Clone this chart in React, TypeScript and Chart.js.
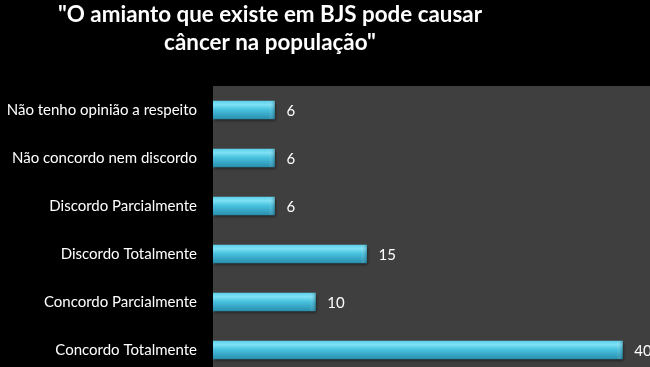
import React, { useEffect, useRef } from "react";
import { Chart, registerables } from "chart.js";

Chart.register(...registerables);

const titleLines = ['"O amianto que existe em BJS pode causar', 'câncer na população"'];
const categories = [
  "Não tenho opinião a respeito",
  "Não concordo nem discordo",
  "Discordo Parcialmente",
  "Discordo Totalmente",
  "Concordo Parcialmente",
  "Concordo Totalmente",
];
const values = [6, 6, 6, 15, 10, 40];

const FONT = "Lato, 'Open Sans', sans-serif";

export default function App() {
  const ref = useRef<HTMLCanvasElement | null>(null);
  useEffect(() => {
    const canvas = ref.current!;
    const bgPlugin = {
      id: "bg",
      beforeDraw(chart: any) {
        const { ctx, chartArea, width, height } = chart;
        ctx.save();
        ctx.fillStyle = "#000000";
        ctx.fillRect(0, 0, width, height);
        ctx.fillStyle = "#3f3f3f";
        ctx.fillRect(chartArea.left, chartArea.top, chartArea.right - chartArea.left, chartArea.bottom - chartArea.top);
        ctx.fillStyle = "#ffffff";
        ctx.font = `bold 22.4px ${FONT}`;
        ctx.textAlign = "center";
        ctx.textBaseline = "alphabetic";
        ctx.fillText(titleLines[0], 270, 22);
        ctx.fillText(titleLines[1], 270, 50);
        ctx.restore();
      },
      beforeDatasetsDraw(chart: any) {
        const ctx = chart.ctx;
        ctx.save();
        ctx.shadowColor = "rgba(0,0,0,0.55)";
        ctx.shadowOffsetX = 1;
        ctx.shadowOffsetY = 2;
        ctx.shadowBlur = 3;
      },
      afterDatasetsDraw(chart: any) {
        const ctx = chart.ctx;
        ctx.restore();
        const meta = chart.getDatasetMeta(0);
        ctx.save();
        ctx.font = `15px ${FONT}`;
        ctx.textAlign = "left";
        ctx.textBaseline = "middle";
        meta.data.forEach((bar: any, i: number) => {
          const h = bar.height;
          if (isFinite(bar.x) && isFinite(bar.y) && isFinite(h)) {
            const g = ctx.createLinearGradient(bar.x - 6, 0, bar.x, 0);
            g.addColorStop(0, "rgba(255,255,255,0)");
            g.addColorStop(1, "rgba(20,90,115,0.35)");
            ctx.fillStyle = g;
            ctx.fillRect(bar.x - 6, bar.y - h / 2, 6, h);
          }
          ctx.fillStyle = "#ffffff";
          ctx.fillText(String(values[i]), bar.x + 12, bar.y + 1);
        });
        ctx.restore();
      },
    };
    const chart = new Chart(canvas, {
      type: "bar",
      data: {
        labels: categories,
        datasets: [
          {
            data: values,
            barThickness: 18,
            backgroundColor: (c: any) => {
              const chartRef = c.chart;
              const ys = chartRef.scales && chartRef.scales.y;
              if (!ys || c.dataIndex === undefined) return "#45bfdc";
              const y = ys.getPixelForValue(c.dataIndex);
              if (!isFinite(y)) return "#45bfdc";
              const g = chartRef.ctx.createLinearGradient(0, y - 9, 0, y + 9);
              g.addColorStop(0, "#5fd0ea");
              g.addColorStop(0.2, "#7ee2f5");
              g.addColorStop(0.5, "#45bfdc");
              g.addColorStop(1, "#2a8fae");
              return g;
            },
            borderWidth: 0,
          },
        ],
      },
      options: {
        indexAxis: "y",
        animation: false,
        responsive: false,
        maintainAspectRatio: false,
        layout: { padding: { top: 86, left: 0, right: 0, bottom: 0 } },
        plugins: {
          legend: { display: false },
          title: { display: false },
          tooltip: { enabled: false },
        },
        scales: {
          x: { display: false, min: 0, max: 42.7 },
          y: {
            afterFit(scale: any) {
              scale.width = 213;
              scale.paddingTop = 0;
              scale.paddingBottom = 0;
            },
            grid: { display: false, drawTicks: false },
            border: { display: false },
            ticks: {
              color: "#ffffff",
              padding: 16,
              font: { family: FONT, size: 15 },
            },
          },
        },
      },
      plugins: [bgPlugin],
    } as any);
    return () => chart.destroy();
  }, []);
  return (
    <div style={{ position: "fixed", left: 0, top: 0, width: 650, height: 374, background: "#000" }}>
      <canvas ref={ref} width={650} height={374} style={{ display: "block" }} />
    </div>
  );
}
